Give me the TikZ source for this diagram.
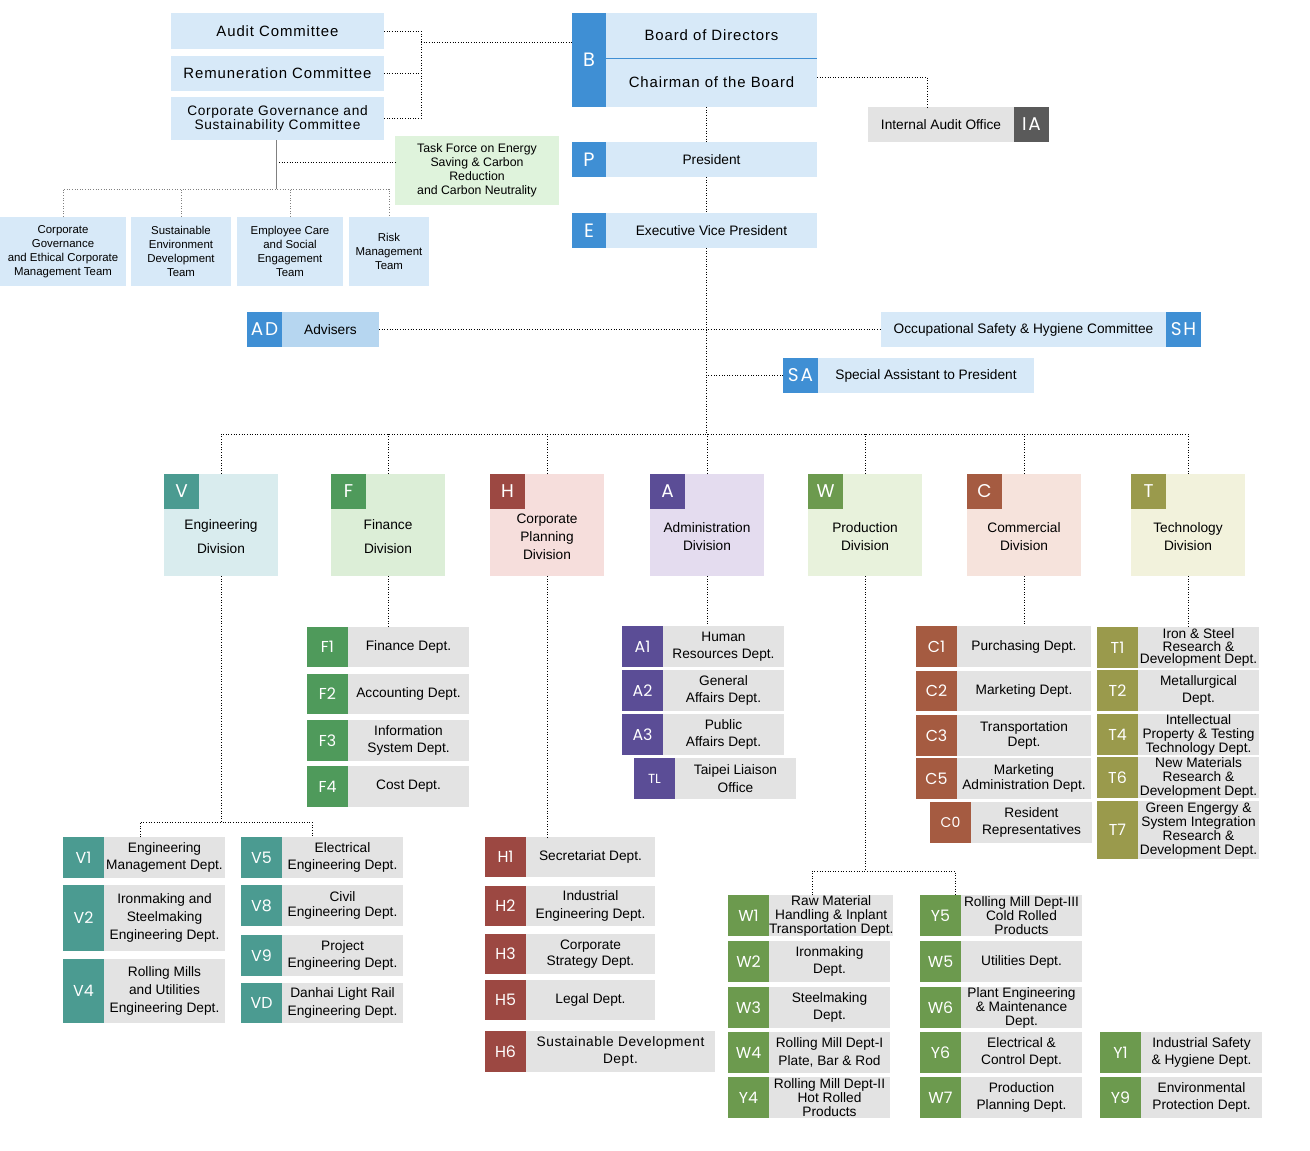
\documentclass[tikz,border=0pt]{standalone}
\usepackage{fontspec}
\setmainfont{Liberation Sans}
\newfontfamily\badgefont{Poppins}
\usetikzlibrary{positioning}
\definecolor{boardblue}{HTML}{3F8FD4}
\definecolor{paleblue}{HTML}{D7E9F8}
\definecolor{advblue}{HTML}{B6D6F0}
\definecolor{taskgreen}{HTML}{DFF3DC}
\definecolor{deptgray}{HTML}{E3E3E3}
\definecolor{iagray}{HTML}{5A5A5A}
\definecolor{vteal}{HTML}{4B9B91}
\definecolor{vpale}{HTML}{D9ECEE}
\definecolor{fgreen}{HTML}{4F9A5B}
\definecolor{fpale}{HTML}{DCEED7}
\definecolor{hred}{HTML}{9C4842}
\definecolor{hpale}{HTML}{F6DEDC}
\definecolor{apurple}{HTML}{5B4D96}
\definecolor{apale}{HTML}{E4DCEF}
\definecolor{wgreen}{HTML}{6C9A4E}
\definecolor{wpale}{HTML}{E8F2DC}
\definecolor{cbrown}{HTML}{A55B41}
\definecolor{cpale}{HTML}{F6E3DC}
\definecolor{tolive}{HTML}{9A9A4C}
\definecolor{tpale}{HTML}{F2F2DC}
\begin{document}
\begin{tikzpicture}[x=0.02cm,y=-0.02cm,inner sep=0pt,outer sep=0pt,
sz/.style 2 args={minimum width=#1*0.02cm,minimum height=#2*0.02cm},
badge/.style={text=white,font=\badgefont\fontsize{9}{10}\selectfont},
bigbadge/.style={badge,fill=boardblue,font=\badgefont\fontsize{11}{12}\selectfont},
midbadge/.style={badge,font=\badgefont\fontsize{10.5}{11}\selectfont\addfontfeature{LetterSpace=10}},
txt/.style={align=center,font=\fontsize{7.8}{9.5}\selectfont},
pale/.style={txt,fill=paleblue},
spaced/.style={pale,font=\fontsize{8.5}{9}\selectfont\addfontfeature{LetterSpace=6}},
team/.style={fill=paleblue,align=center,font=\fontsize{6.5}{7.9}\selectfont},
task/.style={fill=taskgreen,align=center,font=\fontsize{7}{8}\selectfont},
dept/.style={fill=deptgray,align=center,font=\fontsize{7.8}{#1}\selectfont},
division/.style={sz={114}{102},anchor=north west},
divtext/.style={align=center,font=\fontsize{7.8}{#1}\selectfont},
link/.style={line width=0.5pt,dash pattern=on 0.5pt off 1pt},
glink/.style={link,gray}]

\useasboundingbox (0,0) rectangle (1310,1150);

% committees of the board
\node[spaced,sz={213}{36},anchor=north west] (audit) at (171,13) {Audit Committee};
\node[spaced,sz={213}{35},anchor=north west] (remun) at (171,56) {Remuneration Committee};
\node[spaced,sz={213}{43},anchor=north west,font=\fontsize{7.8}{8}\selectfont\addfontfeature{LetterSpace=5}] (cgsc) at (171,97) {Corporate Governance and\\Sustainability Committee};
\node[task,sz={164}{69},anchor=north west] (tf) at (395,136) {Task Force on Energy\\Saving \& Carbon\\Reduction\\and Carbon Neutrality};

\node[team,sz={126}{69},anchor=north west] (cget) at (0,217) {Corporate\\Governance\\and Ethical Corporate\\Management Team};
\node[team,sz={100}{69},anchor=north west] (sedt) at (131,217) {Sustainable\\Environment\\Development\\Team};
\node[team,sz={106}{69},anchor=north west] (ecse) at (237,217) {Employee Care\\and Social\\Engagement\\Team};
\node[team,sz={80}{69},anchor=north west] (rmt) at (349,217) {Risk\\Management\\Team};

% board, president, vice president
\node[bigbadge,sz={34}{94},anchor=north west] (B) at (572,13) {B};
\node[spaced,sz={211}{45},anchor=north west] (bod) at (606,13) {Board of Directors};
\node[spaced,sz={211}{49},below=0pt of bod] (chair) {Chairman of the Board};
\draw[boardblue] (bod.south west) -- (bod.south east);

\node[fill=deptgray,txt,sz={146}{35},anchor=north west] (iaoff) at (868,107) {Internal Audit Office};
\node[midbadge,fill=iagray,sz={35}{35},right=0pt of iaoff] (IA) {IA};

\node[bigbadge,sz={34}{35},anchor=north west] (P) at (572,142) {P};
\node[pale,sz={211}{35},right=0pt of P] (pres) {President};
\node[bigbadge,sz={34}{35},anchor=north west] (E) at (572,213) {E};
\node[pale,sz={211}{35},right=0pt of E] (evp) {Executive Vice President};

\node[midbadge,fill=boardblue,sz={35}{35},anchor=north west] (AD) at (247,312) {AD};
\node[txt,fill=advblue,sz={97}{35},right=0pt of AD] (adv) {Advisers};
\node[pale,sz={285}{35},anchor=north west] (shc) at (881,312) {Occupational Safety \& Hygiene Committee};
\node[midbadge,fill=boardblue,sz={35}{35},right=0pt of shc] (SH) {SH};
\node[midbadge,fill=boardblue,sz={35}{35},anchor=north west] (SA) at (783,358) {SA};
\node[pale,sz={216}{35},right=0pt of SA] (sap) {Special Assistant to President};

\coordinate (cj) at (421,42);
\coordinate (tbus) at (276,189);
\coordinate (tfj) at (279,162);
\coordinate (iaj) at (927,77);
\coordinate (spine) at (706,434);

\draw[link] (audit.east) -| (cgsc.east -| cj) -- (cgsc.east);
\draw[link] (remun.east) -- (remun.east -| cj);
\draw[link] (cj) -- (cj -| B.west);
\draw[gray,thin] (cgsc.south -| tbus) -- (tbus);
\draw[link] (tfj) -- (tfj -| tf.west);
\draw[glink] (cget.north) |- (rmt.north |- tbus) -- (rmt.north);
\draw[glink] (sedt.north) -- (sedt.north |- tbus);
\draw[glink] (ecse.north) -- (ecse.north |- tbus);
\draw[link] (chair.east |- iaj) -- (iaj) -- (iaj |- iaoff.north);
\draw[link] (chair.south -| spine) -- (pres.north -| spine);
\draw[link] (pres.south -| spine) -- (evp.north -| spine);
\draw[link] (evp.south -| spine) -- (spine);
\draw[link] (adv.east) -- (shc.west);
\draw[link] (SA.west) -- (SA.west -| spine);

% divisions
\foreach \d/\xx/\dark/\light/\ls/\txt in {V/164/vteal/vpale/13.6/{Engineering\\Division},
  F/331/fgreen/fpale/13.6/{Finance\\Division},
  H/490/hred/hpale/10.2/{Corporate\\Planning\\Division},
  A/650/apurple/apale/10.2/{Administration\\Division},
  W/808/wgreen/wpale/10.2/{Production\\Division},
  C/967/cbrown/cpale/10.2/{Commercial\\Division},
  T/1131/tolive/tpale/10.2/{Technology\\Division}}{
  \node[division,fill=\light] (div\d) at (\xx,474) {};
  \node[badge,fill=\dark,sz={35}{35},anchor=north west,font=\badgefont\fontsize{10.5}{11}\selectfont] (\d) at (\xx,474) {\d};
  \node[divtext=\ls] (txt\d) at (\xx+57,537) {\txt};
}
\draw[link] (divV.north) |- (divT.north |- spine) -- (divT.north);
\foreach \d in {F,H,A,W,C}
  \draw[link] (div\d.north) -- (div\d.north |- spine);

% engineering
\foreach \nm/\yy/\hh/\ls/\txt in {V1/837/41/10/{Engineering\\Management Dept.},
  V2/885/66/10/{Ironmaking and\\Steelmaking\\Engineering Dept.},
  V4/959/64/10/{Rolling Mills\\and Utilities\\Engineering Dept.}}{
  \node[badge,fill=vteal,sz={41}{\hh},anchor=north west] (\nm) at (63,\yy) {\nm};
  \node[dept=\ls,sz={121}{\hh},right=0pt of \nm] (\nm-t) {\txt};
}
\foreach \nm/\yy/\hh/\ls/\txt in {V5/837/41/10/{Electrical\\Engineering Dept.},
  V8/885/41/9/{Civil\\Engineering Dept.},
  V9/935/41/10/{Project\\Engineering Dept.},
  VD/983/40/10/{Danhai Light Rail\\Engineering Dept.}}{
  \node[badge,fill=vteal,sz={41}{\hh},anchor=north west] (\nm) at (241,\yy) {\nm};
  \node[dept=\ls,sz={121}{\hh},right=0pt of \nm] (\nm-t) {\txt};
}
\coordinate (vl) at (140,822);
\coordinate (vr) at (312,822);
\draw[link] (divV.south) -- (divV.south |- vl);
\draw[link] (V1-t.north -| vl) |- (vr) -- (vr |- V5-t.north);

% finance
\foreach \nm/\yy/\hh/\ls/\txt in {F1/627/40/10/{Finance Dept.},
  F2/674/40/10/{Accounting Dept.},
  F3/720/41/10/{Information\\System Dept.},
  F4/766/41/10/{Cost Dept.}}{
  \node[badge,fill=fgreen,sz={41}{\hh},anchor=north west] (\nm) at (307,\yy) {\nm};
  \node[dept=\ls,sz={121}{\hh},right=0pt of \nm] (\nm-t) {\txt};
}
\draw[link] (divF.south) -- (divF.south |- F1-t.north);

% corporate planning
\foreach \nm/\yy/\hh/\ls/\txt in {H1/837/40/10/{Secretariat Dept.},
  H2/886/40/10/{Industrial\\Engineering Dept.},
  H3/934/40/9/{Corporate\\Strategy Dept.},
  H5/980/40/10/{Legal Dept.}}{
  \node[badge,fill=hred,sz={41}{\hh},anchor=north west] (\nm) at (485,\yy) {\nm};
  \node[dept=\ls,sz={129}{\hh},right=0pt of \nm] (\nm-t) {\txt};
}
\node[badge,fill=hred,sz={41}{41},anchor=north west] (H6) at (485,1031) {H6};
\node[dept=10,sz={189}{41},right=0pt of H6,font=\fontsize{7.8}{10}\selectfont\addfontfeature{LetterSpace=4}] (H6-t) {Sustainable Development\\Dept.};
\draw[link] (divH.south) -- (divH.south |- H1-t.north);

% administration
\foreach \nm/\yy/\hh/\ls/\txt in {A1/626/41/10/{Human\\Resources Dept.},
  A2/670/41/10/{General\\Affairs Dept.},
  A3/714/41/10/{Public\\Affairs Dept.}}{
  \node[badge,fill=apurple,sz={41}{\hh},anchor=north west] (\nm) at (622,\yy) {\nm};
  \node[dept=\ls,sz={121}{\hh},right=0pt of \nm] (\nm-t) {\txt};
}
\node[badge,fill=apurple,sz={41}{41},anchor=north west,font=\badgefont\fontsize{7.5}{8}\selectfont] (TL) at (634,758) {TL};
\node[dept=10,sz={121}{41},right=0pt of TL] (TL-t) {Taipei Liaison\\Office};
\draw[link] (divA.south) -- (divA.south |- A1-t.north);

% production
\foreach \nm/\yy/\hh/\ls/\txt in {W1/895/41/8/{Raw Material\\Handling \& Inplant\\Transportation Dept.},
  W2/941/41/10/{Ironmaking\\Dept.},
  W3/987/41/10/{Steelmaking\\Dept.},
  W4/1032/41/10/{Rolling Mill Dept-I\\Plate, Bar \& Rod},
  Y4/1077/41/8/{Rolling Mill Dept-II\\Hot Rolled\\Products}}{
  \node[badge,fill=wgreen,sz={41}{\hh},anchor=north west] (\nm) at (728,\yy) {\nm};
  \node[dept=\ls,sz={121}{\hh},right=0pt of \nm] (\nm-t) {\txt};
}
\foreach \nm/\yy/\hh/\ls/\txt in {Y5/895/41/8/{Rolling Mill Dept-III\\Cold Rolled\\Products},
  W5/941/41/10/{Utilities Dept.},
  W6/987/41/8/{Plant Engineering\\\& Maintenance\\Dept.},
  Y6/1032/41/10/{Electrical \&\\Control Dept.},
  W7/1077/41/10/{Production\\Planning Dept.}}{
  \node[badge,fill=wgreen,sz={41}{\hh},anchor=north west] (\nm) at (920,\yy) {\nm};
  \node[dept=\ls,sz={121}{\hh},right=0pt of \nm] (\nm-t) {\txt};
}
\foreach \nm/\yy/\hh/\ls/\txt in {Y1/1032/41/10/{Industrial Safety\\\& Hygiene Dept.},
  Y9/1077/41/10/{Environmental\\Protection Dept.}}{
  \node[badge,fill=wgreen,sz={41}{\hh},anchor=north west] (\nm) at (1100,\yy) {\nm};
  \node[dept=\ls,sz={121}{\hh},right=0pt of \nm] (\nm-t) {\txt};
}
\coordinate (wl) at (812,871);
\coordinate (wr) at (955,871);
\draw[link] (divW.south) -- (divW.south |- wl);
\draw[link] (W1-t.north -| wl) |- (wr) -- (wr |- Y5.north);

% commercial
\foreach \nm/\yy/\hh/\ls/\txt in {C1/626/41/10/{Purchasing Dept.},
  C2/671/40/10/{Marketing Dept.},
  C3/715/41/9/{Transportation\\Dept.},
  C5/758/41/9/{Marketing\\Administration Dept.}}{
  \node[badge,fill=cbrown,sz={41}{\hh},anchor=north west] (\nm) at (916,\yy) {\nm};
  \node[dept=\ls,sz={134}{\hh},right=0pt of \nm] (\nm-t) {\txt};
}
\node[badge,fill=cbrown,sz={41}{41},anchor=north west,font=\badgefont\fontsize{8}{9}\selectfont] (C0) at (930,802) {C0};
\node[dept=10,sz={121}{41},right=0pt of C0] (C0-t) {Resident\\Representatives};
\draw[link] (divC.south) -- (divC.south |- C1-t.north);

% technology
\foreach \nm/\yy/\hh/\ls/\txt in {T1/627/41/7/{Iron \& Steel\\Research \&\\Development Dept.},
  T2/670/41/10/{Metallurgical\\Dept.},
  T4/714/41/8/{Intellectual\\Property \& Testing\\Technology Dept.},
  T6/757/41/8/{New Materials\\Research \&\\Development Dept.},
  T7/801/58/8/{Green Engergy \&\\System Integration\\Research \&\\Development Dept.}}{
  \node[badge,fill=tolive,sz={41}{\hh},anchor=north west] (\nm) at (1097,\yy) {\nm};
  \node[dept=\ls,sz={121}{\hh},right=0pt of \nm] (\nm-t) {\txt};
}
\draw[link] (divT.south) -- (divT.south |- T1-t.north);

\end{tikzpicture}
\end{document}
